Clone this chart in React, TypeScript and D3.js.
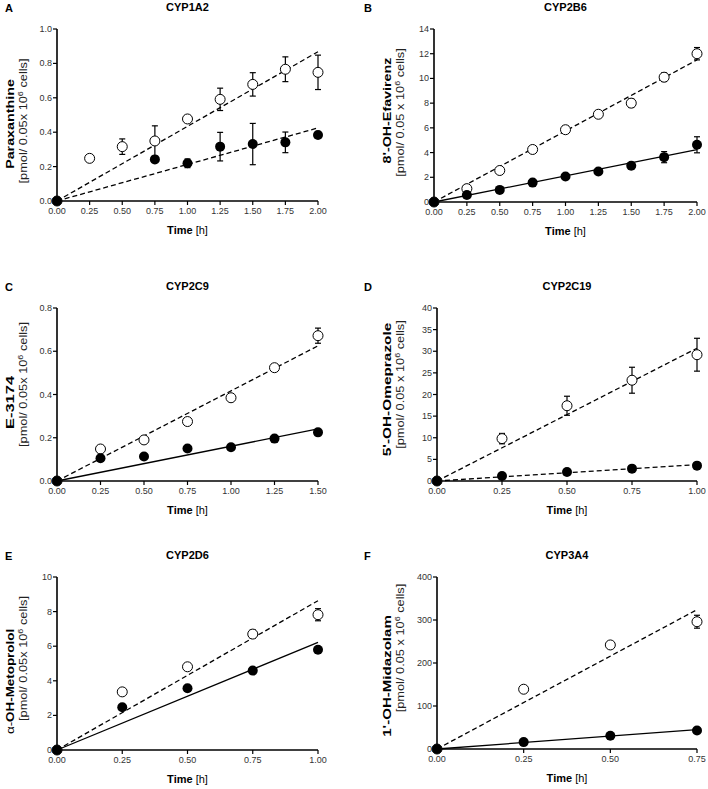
import React from 'react';
import * as d3 from 'd3';

const timesA = [0, 0.25, 0.5, 0.75, 1.0, 1.25, 1.5, 1.75, 2.0];
const openA = [0, 0.248, 0.316, 0.349, 0.477, 0.591, 0.678, 0.766, 0.748];
const openErrA = [0, 0, 0.045, 0.088, 0, 0.065, 0.068, 0.072, 0.1];
const filledTimesA = [0, 0.75, 1.0, 1.25, 1.5, 1.75, 2.0];
const filledA = [0, 0.242, 0.219, 0.316, 0.331, 0.341, 0.384];
const filledErrA = [0, 0, 0.025, 0.083, 0.12, 0.06, 0.02];

const timesB = [0, 0.25, 0.5, 0.75, 1.0, 1.25, 1.5, 1.75, 2.0];
const openB = [0, 1.08, 2.55, 4.25, 5.85, 7.1, 8.0, 10.1, 12.0];
const openErrB = [0, 0.3, 0.15, 0.15, 0.3, 0.2, 0.35, 0.35, 0.5];
const filledB = [0, 0.57, 0.98, 1.57, 2.06, 2.47, 2.93, 3.63, 4.63];
const filledErrB = [0, 0, 0, 0, 0, 0, 0, 0.45, 0.65];

const timesC = [0, 0.25, 0.5, 0.75, 1.0, 1.25, 1.5];
const openC = [0, 0.148, 0.19, 0.275, 0.385, 0.524, 0.672];
const openErrC = [0, 0, 0, 0, 0, 0.01, 0.035];
const filledC = [0, 0.105, 0.113, 0.15, 0.156, 0.196, 0.225];
const filledErrC = [0, 0, 0, 0, 0, 0, 0];

const timesD = [0, 0.25, 0.5, 0.75, 1.0];
const openD = [0, 9.8, 17.4, 23.3, 29.2];
const openErrD = [0, 1.2, 2.2, 3.0, 3.8];
const filledD = [0, 1.16, 2.08, 2.86, 3.55];
const filledErrD = [0, 0, 0, 0, 0];

const timesE = [0, 0.25, 0.5, 0.75, 1.0];
const openE = [0, 3.36, 4.81, 6.7, 7.82];
const openErrE = [0, 0, 0, 0.25, 0.35];
const filledE = [0, 2.47, 3.57, 4.59, 5.79];
const filledErrE = [0, 0, 0, 0, 0];

const timesF = [0, 0.25, 0.5, 0.75];
const openF = [0, 139, 242, 296];
const openErrF = [0, 0, 0, 15];
const filledF = [0, 16, 31, 43];
const filledErrF = [0, 0, 0, 0];

// linear fits through the origin (slope per hour)
const slopesOpen = [0.434, 5.75, 0.4167, 30.7, 8.63, 432];
const slopesFilled = [0.2125, 2.115, 0.1607, 3.8, 6.22, 60];
const filledFitDashed = [true, false, false, true, false, false];

const xTicksA = [0, 0.25, 0.5, 0.75, 1.0, 1.25, 1.5, 1.75, 2.0];
const xTicksC = [0, 0.25, 0.5, 0.75, 1.0, 1.25, 1.5];
const xTicksD = [0, 0.25, 0.5, 0.75, 1.0];
const xTicksF = [0, 0.25, 0.5, 0.75];
const yTicksA = [0, 0.2, 0.4, 0.6, 0.8, 1.0];
const yTicksB = [0, 2, 4, 6, 8, 10, 12, 14];
const yTicksC = [0, 0.2, 0.4, 0.6, 0.8];
const yTicksD = [0, 5, 10, 15, 20, 25, 30, 35, 40];
const yTicksE = [0, 2, 4, 6, 8, 10];
const yTicksF = [0, 100, 200, 300, 400];

const letters = ['A', 'B', 'C', 'D', 'E', 'F'];
const titles = ['CYP1A2', 'CYP2B6', 'CYP2C9', 'CYP2C19', 'CYP2D6', 'CYP3A4'];
const metabolites = ['Paraxanthine', "8'-OH-Efavirenz", 'E-3174', "5'-OH-Omeprazole", 'OH-Metoprolol', "1'-OH-Midazolam"];
const unitSep = ['0.05x', '0.05 x', '0.05x', '0.05 x', '0.05x', '0.05 x'];

// y-label placement tweaks (stretch along text, shift of centre from plot middle)
const nameStretch = [1.3, 1.3, 1.5, 1.4, 1.22, 1.37];
const nameShift = [9, -5, 8, -5, 18, 13];
const unitShift = [6, -3, -10, -10, -5, -15];

const FONT = 'Liberation Sans, Arial, sans-serif';

type PanelProps = {
  idx: number;
  x0: number; x1: number; y0: number; y1: number;
  times: number[]; open: number[]; openErr: number[];
  filledTimes: number[]; filled: number[]; filledErr: number[];
  xTicks: number[]; yTicks: number[]; yFmt: string;
  labelX: number; letterX: number;
};

function Panel(p: PanelProps) {
  const xMax = p.xTicks[p.xTicks.length - 1];
  const yMax = p.yTicks[p.yTicks.length - 1];
  const x = d3.scaleLinear().domain([0, xMax]).range([p.x0, p.x1]);
  const y = d3.scaleLinear().domain([0, yMax]).range([p.y1, p.y0]);
  const line = d3.line<[number, number]>().x(d => x(d[0])).y(d => y(d[1]));
  const fmtX = d3.format('.2f');
  const fmtY = d3.format(p.yFmt);
  const fitOpen = line([[0, 0], [xMax, slopesOpen[p.idx] * xMax]]);
  const fitFilled = line([[0, 0], [xMax, slopesFilled[p.idx] * xMax]]);
  const midY = (p.y0 + p.y1) / 2;

  const errBars = (ts: number[], ms: number[], es: number[], key: string) =>
    ts.map((t, i) => es[i] > 0 ? (
      <g key={key + i} stroke="#000" strokeWidth={1.2}>
        <line x1={x(t)} x2={x(t)} y1={y(ms[i] - es[i])} y2={y(ms[i] + es[i])} />
        <line x1={x(t) - 3} x2={x(t) + 3} y1={y(ms[i] + es[i])} y2={y(ms[i] + es[i])} />
        <line x1={x(t) - 3} x2={x(t) + 3} y1={y(ms[i] - es[i])} y2={y(ms[i] - es[i])} />
      </g>
    ) : null);

  return (
    <g fontFamily={FONT}>
      <text x={p.letterX} y={p.y0 - 17} fontSize={11} fontWeight="bold">{letters[p.idx]}</text>
      <text x={(p.x0 + p.x1) / 2} y={p.y0 - 18} fontSize={11} fontWeight="bold" textAnchor="middle">{titles[p.idx]}</text>
      <text transform={`translate(${p.labelX},${midY + nameShift[p.idx]}) rotate(-90) scale(${nameStretch[p.idx]},1)`}
        textAnchor="middle" fontSize={11} fontWeight="bold">
        {p.idx === 4 ? <tspan fontWeight="normal">α-</tspan> : null}{metabolites[p.idx]}
      </text>
      <text transform={`translate(${p.labelX + 13},${midY + unitShift[p.idx]}) rotate(-90) scale(1.28,1)`}
        textAnchor="middle" fontSize={10} fill="#222">
        [pmol/ {unitSep[p.idx]} 10<tspan dy={-4} fontSize={7}>6</tspan><tspan dy={4}> cells]</tspan>
      </text>
      {/* axes */}
      <line x1={p.x0} x2={p.x0} y1={p.y0} y2={p.y1} stroke="#000" strokeWidth={1.6} />
      <line x1={p.x0} x2={p.x1} y1={p.y1} y2={p.y1} stroke="#000" strokeWidth={1.6} />
      {p.yTicks.map(t => (
        <g key={'y' + t}>
          <line x1={p.x0 - 4} x2={p.x0} y1={y(t)} y2={y(t)} stroke="#000" strokeWidth={1.2} />
          <text x={p.x0 - 5} y={y(t) + 3} textAnchor="end" fontSize={9} fill="#333">{fmtY(t)}</text>
        </g>
      ))}
      {p.xTicks.map(t => (
        <g key={'x' + t}>
          <line x1={x(t)} x2={x(t)} y1={p.y1} y2={p.y1 + 4} stroke="#000" strokeWidth={1.2} />
          <text x={x(t)} y={p.y1 + 13} textAnchor="middle" fontSize={9} fill="#333">{fmtX(t)}</text>
        </g>
      ))}
      <text x={(p.x0 + p.x1) / 2} y={p.y1 + 33} textAnchor="middle" fontSize={11}>
        <tspan fontWeight="bold">Time</tspan> [h]
      </text>
      {/* fits */}
      <path d={fitOpen || ''} fill="none" stroke="#000" strokeWidth={1.3} strokeDasharray="5,3" />
      <path d={fitFilled || ''} fill="none" stroke="#000" strokeWidth={1.3}
        strokeDasharray={filledFitDashed[p.idx] ? '5,3' : undefined} />
      {errBars(p.times, p.open, p.openErr, 'oe')}
      {errBars(p.filledTimes, p.filled, p.filledErr, 'fe')}
      {p.times.map((t, i) => (
        <circle key={'o' + i} cx={x(t)} cy={y(p.open[i])} r={5} fill="#fff" stroke="#000" strokeWidth={1} />
      ))}
      {p.filledTimes.map((t, i) => (
        <circle key={'f' + i} cx={x(t)} cy={y(p.filled[i])} r={5} fill="#000" />
      ))}
    </g>
  );
}

export default function App() {
  return (
    <svg width={708} height={789} style={{ position: 'absolute', left: 0, top: 0, background: '#fff' }}>
      <rect width={708} height={789} fill="#fff" />
      <Panel idx={0} x0={57} x1={318} y0={29} y1={201} times={timesA} open={openA} openErr={openErrA}
        filledTimes={filledTimesA} filled={filledA} filledErr={filledErrA}
        xTicks={xTicksA} yTicks={yTicksA} yFmt=".1f" labelX={14} letterX={5} />
      <Panel idx={1} x0={434} x1={697} y0={29} y1={202} times={timesB} open={openB} openErr={openErrB}
        filledTimes={timesB} filled={filledB} filledErr={filledErrB}
        xTicks={xTicksA} yTicks={yTicksB} yFmt="d" labelX={391} letterX={364} />
      <Panel idx={2} x0={57} x1={318} y0={308} y1={481} times={timesC} open={openC} openErr={openErrC}
        filledTimes={timesC} filled={filledC} filledErr={filledErrC}
        xTicks={xTicksC} yTicks={yTicksC} yFmt=".1f" labelX={14} letterX={5} />
      <Panel idx={3} x0={437} x1={697} y0={308} y1={481} times={timesD} open={openD} openErr={openErrD}
        filledTimes={timesD} filled={filledD} filledErr={filledErrD}
        xTicks={xTicksD} yTicks={yTicksD} yFmt="d" labelX={391} letterX={364} />
      <Panel idx={4} x0={57} x1={318} y0={577} y1={750} times={timesE} open={openE} openErr={openErrE}
        filledTimes={timesE} filled={filledE} filledErr={filledErrE}
        xTicks={xTicksD} yTicks={yTicksE} yFmt="d" labelX={14} letterX={5} />
      <Panel idx={5} x0={437} x1={697} y0={577} y1={749} times={timesF} open={openF} openErr={openErrF}
        filledTimes={timesF} filled={filledF} filledErr={filledErrF}
        xTicks={xTicksF} yTicks={yTicksF} yFmt="d" labelX={391} letterX={364} />
    </svg>
  );
}
